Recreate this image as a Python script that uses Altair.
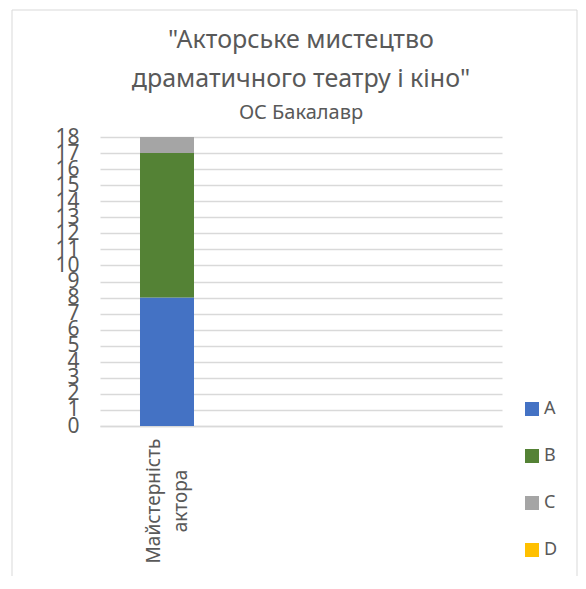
import altair as alt
import pandas as pd

categories = ["Майстерність актора", " ", "  "]
series = ["A", "B", "C", "D"]
values = [8, 9, 1, 0]
colors = ["#4472C4", "#548235", "#A5A5A5", "#FFC000"]
y_ticks = list(range(0, 19))
title_lines = ["\"Акторське мистецтво", "драматичного театру і кіно\""]
subtitle = "ОС Бакалавр"

df = pd.DataFrame({
    "category": [categories[0]] * len(series),
    "series": series,
    "value": values,
    "order": list(range(len(series))),
})
label_df = pd.DataFrame({"category": [c for c in categories if c.strip()]})

FONT = "Noto Sans"
GREY = "#595959"

x_enc = alt.X(
    "category:N",
    sort=categories,
    scale=alt.Scale(domain=categories, paddingInner=0.597, paddingOuter=0.2985),
    axis=alt.Axis(
        title=None, labels=False, ticks=False,
        domainColor="#d9d9d9", domainWidth=1.5,
    ),
)

border = alt.Chart(pd.DataFrame({"k": [0]})).mark_rect(
    fill=None, stroke="#d9d9d9", strokeWidth=1
).encode(
    x=alt.value(-88), x2=alt.value(477), y=alt.value(-127), y2=alt.value(600)
)

title1 = alt.Chart(pd.DataFrame({"t": [title_lines[0]]})).mark_text(
    font=FONT, fontSize=25, color=GREY, baseline="middle", align="center"
).encode(text="t:N", x=alt.value(201), y=alt.value(-97))
title2 = alt.Chart(pd.DataFrame({"t": [title_lines[1]]})).mark_text(
    font=FONT, fontSize=25, color=GREY, baseline="middle", align="center"
).encode(text="t:N", x=alt.value(201), y=alt.value(-58))
sub = alt.Chart(pd.DataFrame({"t": [subtitle]})).mark_text(
    font=FONT, fontSize=20, color=GREY, baseline="middle", align="center"
).encode(text="t:N", x=alt.value(201), y=alt.value(-24))

cat_labels = alt.Chart(label_df).mark_text(
    font=FONT, fontSize=19, color=GREY, angle=270, align="center",
    baseline="middle", lineBreak=" ", lineHeight=27, dy=-13,
).encode(x=x_enc, y=alt.value(364), text="category:N")

bars = alt.Chart(df).mark_bar().encode(
    x=x_enc,
    y=alt.Y(
        "value:Q",
        stack="zero",
        scale=alt.Scale(domain=[0, 18], nice=False),
        axis=alt.Axis(
            title=None, values=y_ticks, labelFontSize=21, labelColor=GREY, labelFont=FONT,
            labelPadding=21, ticks=False, domain=False, gridColor="#d9d9d9",
            gridWidth=1.3, labelOverlap=False, labelBaseline="middle",
        ),
    ),
    color=alt.Color(
        "series:N",
        scale=alt.Scale(domain=series, range=colors),
        legend=alt.Legend(
            title=None, orient="none", legendX=423, legendY=263, symbolType="square",
            symbolSize=196, symbolStrokeWidth=0, labelFontSize=18, labelColor=GREY,
            labelFont=FONT, rowPadding=29, labelOffset=3,
        ),
    ),
    order=alt.Order("order:Q"),
)

chart = alt.layer(border, title1, title2, sub, bars, cat_labels).properties(
    width=402,
    height=289,
    padding={"left": 92, "top": 129, "right": 76, "bottom": 150},
    autosize=alt.AutoSizeParams(type="none"),
).configure_view(stroke=None)

chart.save("out.html", embed_options={"renderer": "svg", "actions": False})
